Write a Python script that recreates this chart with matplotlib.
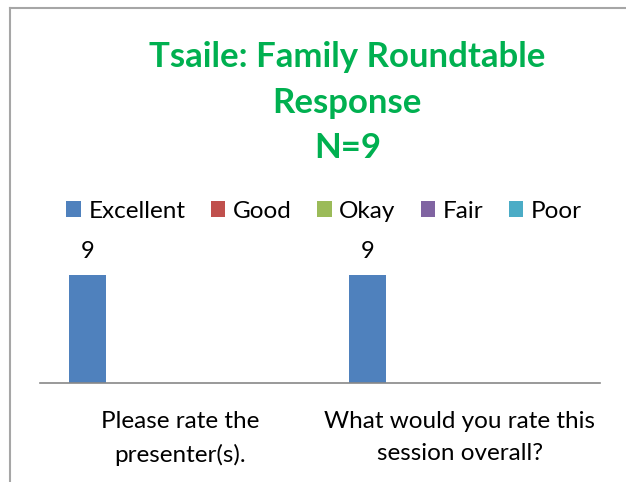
import matplotlib.pyplot as plt
from matplotlib.lines import Line2D
from matplotlib.patches import Patch

categories = ["Please rate the\npresenter(s).", "What would you rate this\nsession overall?"]
series = ["Excellent", "Good", "Okay", "Fair", "Poor"]
values = {
    "Excellent": [9, 9],
    "Good": [0, 0],
    "Okay": [0, 0],
    "Fair": [0, 0],
    "Poor": [0, 0],
}
colors = ["#4F81BD", "#C0504D", "#9BBB59", "#8064A2", "#4BACC6"]

plt.rcParams['font.family'] = ['Lato', 'DejaVu Sans']

fig = plt.figure(figsize=(6.26, 4.82), dpi=100)
fig.patch.set_facecolor("white")

# chart border: only top and left edges show
bx, by = 10 / 626, (482 - 8) / 482
fig.lines.append(Line2D([bx, 1.0], [by, by], transform=fig.transFigure,
                        color="#A6A6A6", linewidth=1.5))
fig.lines.append(Line2D([bx, bx], [0.0, by], transform=fig.transFigure,
                        color="#A6A6A6", linewidth=1.5))

ax = fig.add_axes([40 / 626, (482 - 383) / 482, 560 / 626, 120 / 482])

w = 0.13
step = 0.165
for i, s in enumerate(series):
    xs = [c + (i - 2) * step for c in range(len(categories))]
    ax.bar(xs, values[s], width=w, color=colors[i], label=s)
    for x, v in zip(xs, values[s]):
        if v > 0:
            ax.text(x, v + 1.1, str(v), ha="center", va="bottom", fontsize=17)

ax.set_xlim(-0.5, 1.5)
ax.set_ylim(0, 10)
ax.set_xticks(range(len(categories)))
ax.set_xticklabels(categories, fontsize=17.5, linespacing=1.65)
ax.tick_params(axis="x", length=0, pad=20)
ax.set_yticks([])
for sp in ["top", "right", "left"]:
    ax.spines[sp].set_visible(False)
ax.spines["bottom"].set_color("#888888")
ax.spines["bottom"].set_linewidth(1.2)

fig.text(0.555, (482 - 41) / 482, "Tsaile: Family Roundtable\nResponse\nN=9",
         ha="center", va="top", fontsize=25, fontweight="bold",
         color="#00B050", linespacing=1.52)

handles = [Patch(facecolor=c, label=s) for s, c in zip(series, colors)]
fig.legend(handles=handles, loc="center", bbox_to_anchor=(324 / 626, (482 - 211) / 482),
           ncol=5, frameon=False, fontsize=17.5, handlelength=0.6, handleheight=0.6,
           handletextpad=0.3, columnspacing=1.05)

fig.savefig("out.png", dpi=100)
